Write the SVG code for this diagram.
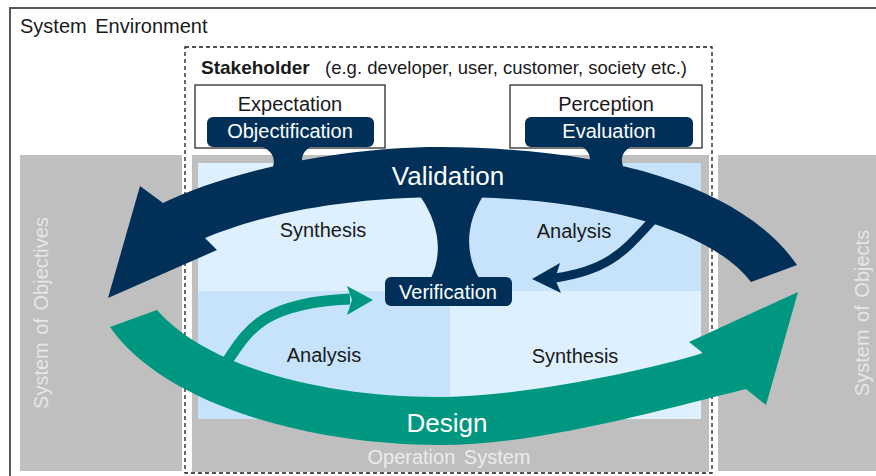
<svg xmlns="http://www.w3.org/2000/svg" width="876" height="476" viewBox="0 0 876 476">
<style>
  text { font-family: "Liberation Sans", Arial, sans-serif; }
  .lbl { font-size: 20px; fill: #1a1a1a; text-anchor: middle; }
  .pilltxt { font-size: 20px; fill: #ffffff; text-anchor: middle; }
  .big { font-size: 26px; fill: #ffffff; text-anchor: middle; }
  .side { font-size: 20px; fill: #e6e6e6; text-anchor: middle; word-spacing: 2px; }
  .pill { fill: #003057; }
  .gray { fill: #bfbfbf; }
  .navy { fill: #003057; }
  .teal { fill: #009780; }
  .light { fill: #def0fe; }
  .mid { fill: #c6e3fb; }
</style>

<g id="system-environment">
  <rect x="10" y="8" width="900" height="500" fill="#ffffff" stroke="#595959" stroke-width="2"/>
  <text x="20" y="33" font-size="20" fill="#1a1a1a" style="word-spacing:3px">System Environment</text>
</g>

<g id="system-of-objectives">
  <rect class="gray" x="20" y="155" width="162" height="316"/>
  <text class="side" transform="translate(48,313) rotate(-90)">System of Objectives</text>
</g>

<g id="system-of-objects">
  <rect class="gray" x="718" y="155" width="170" height="316"/>
  <text class="side" transform="translate(869,313) rotate(-90)">System of Objects</text>
</g>

<g id="operation-system">
  <rect class="gray" x="192" y="155" width="517" height="317"/>
  <rect class="light" x="198" y="163" width="252" height="128"/>
  <rect class="mid" x="450" y="163" width="251" height="128"/>
  <rect class="mid" x="198" y="291" width="252" height="128"/>
  <rect class="light" x="450" y="291" width="251" height="128"/>
  <text x="449" y="464" font-size="20" fill="#ececec" text-anchor="middle" style="word-spacing:3px">Operation System</text>
</g>

<g id="stakeholder">
  <rect x="185" y="47" width="527" height="426" fill="none" stroke="#1a1a1a" stroke-width="1.3" stroke-dasharray="4,3"/>
  <text x="201" y="74" font-size="19" font-weight="bold" fill="#1a1a1a">Stakeholder</text>
  <text x="325" y="74" font-size="18.5" fill="#1a1a1a">(e.g. developer, user, customer, society etc.)</text>
</g>

<g id="expectation">
  <rect x="195" y="85" width="190" height="63" fill="#ffffff" stroke="#1a1a1a" stroke-width="1.2"/>
  <text class="lbl" x="290" y="111">Expectation</text>
</g>

<g id="perception">
  <rect x="510" y="85" width="192" height="63" fill="#ffffff" stroke="#1a1a1a" stroke-width="1.2"/>
  <text class="lbl" x="606" y="111">Perception</text>
</g>

<g id="connectors">
  <!-- Validation arc -->
  <path class="navy" d="M797,265 C745,190 620,148 440,147 C330,147 220,175 163,203 L140,186 L108,298 L217,250 L205,238 C260,215 340,197 450,197 C590,197 710,228 751,282 Z"/>
  <!-- funnels -->
  <path class="navy" d="M258,145 C272,150 277,158 272,170 L303,168 C300,157 303,150 314,145 Z"/>
  <path class="navy" d="M580,145 C588,150 592,156 589,165 L623,166 C620,157 623,150 634,145 Z"/>
  <!-- T stem to verification -->
  <path class="navy" d="M420,196 C440,225 443,255 430,280 L480,280 C465,255 465,225 483,196 Z"/>
  <!-- Analysis arrow (navy) -->
  <path d="M652,221 C625,250 610,270 555,278" fill="none" stroke="#003057" stroke-width="9"/>
  <polygon class="navy" points="560,263 532,279 561,293 555,279"/>
  <!-- Design arc -->
  <path class="teal" d="M110,327 C160,400 300,445 440,445 C540,445 660,410 746,389 L766,405 L798,292 L689,342 L703,353 C640,372 520,397 436,397 C330,397 210,370 157,310 Z"/>
  <!-- Analysis arrow (teal) -->
  <path d="M226,363 C248,330 262,303 350,299" fill="none" stroke="#009780" stroke-width="11"/>
  <polygon class="teal" points="347,286 373,300 347,315 352,300"/>
  <text class="big" x="448" y="185">Validation</text>
  <text class="big" x="447" y="432">Design</text>
</g>

<g id="objectification">
  <rect class="pill" x="207" y="117" width="167" height="30" rx="6"/>
  <text class="pilltxt" x="290" y="138">Objectification</text>
</g>

<g id="evaluation">
  <rect class="pill" x="525" y="117" width="168" height="30" rx="6"/>
  <text class="pilltxt" x="609" y="138">Evaluation</text>
</g>

<g id="verification">
  <rect class="pill" x="385" y="277" width="127" height="29" rx="6"/>
  <text class="pilltxt" x="448" y="299">Verification</text>
</g>

<g id="labels">
  <text class="lbl" x="323" y="237">Synthesis</text>
  <text class="lbl" x="574" y="238">Analysis</text>
  <text class="lbl" x="324" y="362">Analysis</text>
  <text class="lbl" x="575" y="363">Synthesis</text>
</g>
</svg>
